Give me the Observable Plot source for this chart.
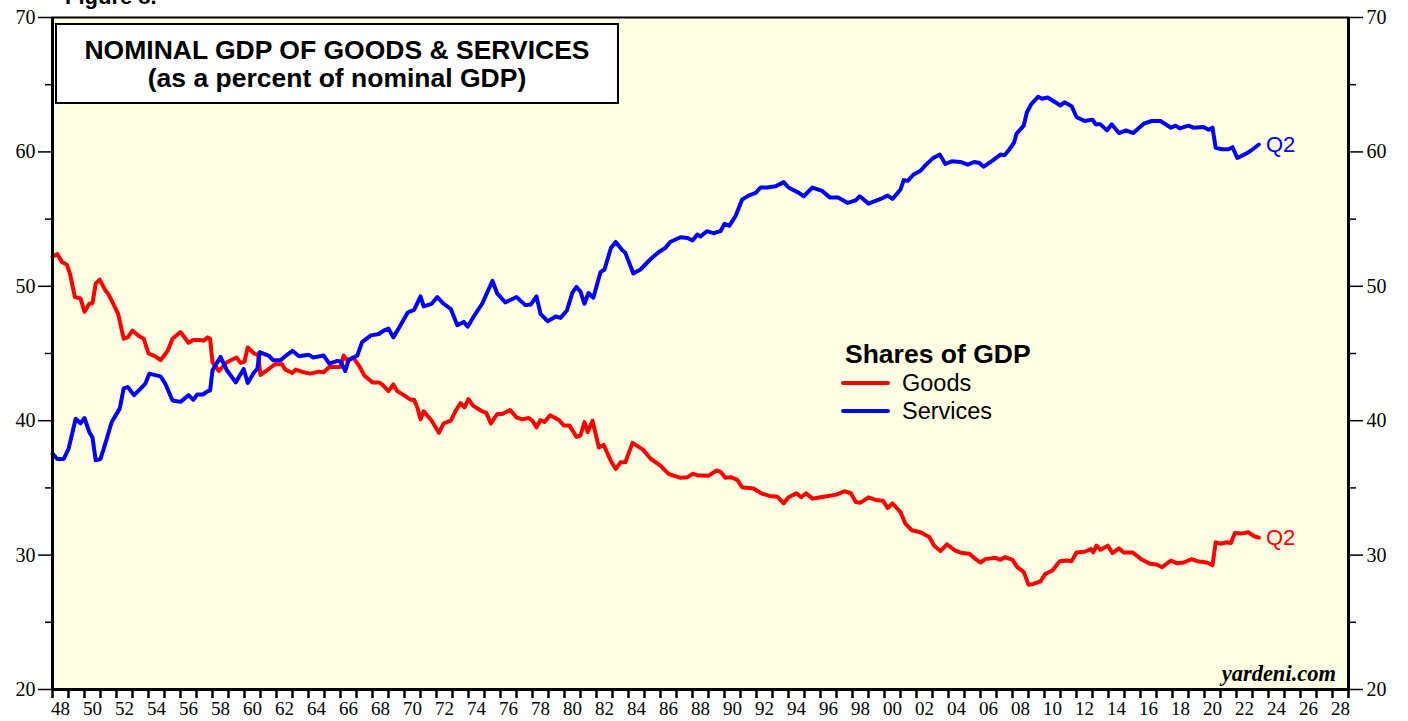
<!DOCTYPE html>
<html>
<head>
<meta charset="utf-8">
<script src="https://cdn.jsdelivr.net/npm/d3@7"></script>
<script src="https://cdn.jsdelivr.net/npm/@observablehq/plot@0.6"></script>
<style>
  html, body { margin: 0; padding: 0; background: #ffffff; }
  #chart svg { display: block; }
</style>
</head>
<body>
<div id="chart"></div>
<script>
// ---- Data ----
const goodsYears = [1948.0,1948.3,1948.6,1948.9,1949.1,1949.4,1949.75,1950.0,1950.3,1950.5,1950.7,1950.95,1951.3,1951.5,1951.8,1952.1,1952.45,1952.7,1953.0,1953.4,1953.7,1954.0,1954.4,1954.75,1955.2,1955.5,1956.0,1956.5,1956.8,1957.25,1957.45,1957.7,1957.85,1958.0,1958.4,1958.9,1959.5,1959.75,1960.0,1960.2,1960.6,1960.85,1961.0,1961.4,1961.9,1962.35,1962.55,1963.0,1963.2,1963.7,1964.1,1964.65,1964.95,1965.3,1965.7,1966.0,1966.2,1966.4,1966.8,1967.15,1967.5,1968.0,1968.4,1968.6,1969.0,1969.3,1969.55,1969.95,1970.4,1970.6,1970.8,1971.0,1971.2,1971.7,1972.15,1972.45,1972.9,1973.2,1973.5,1973.75,1974.0,1974.3,1974.85,1975.1,1975.4,1975.8,1976.1,1976.6,1977.0,1977.35,1977.75,1978.0,1978.25,1978.5,1978.75,1979.1,1979.65,1979.95,1980.3,1980.75,1981.0,1981.25,1981.45,1981.75,1982.15,1982.45,1982.9,1983.2,1983.5,1983.8,1984.25,1984.9,1985.4,1986.0,1986.5,1987.25,1987.7,1988.0,1988.3,1989.0,1989.5,1989.75,1990.05,1990.4,1990.8,1991.1,1991.8,1992.3,1992.8,1993.3,1993.7,1994.0,1994.5,1994.8,1995.1,1995.5,1996.0,1996.5,1997.0,1997.5,1997.9,1998.2,1998.5,1999.0,1999.45,1999.9,2000.2,2000.5,2001.0,2001.3,2001.7,2002.25,2002.8,2003.1,2003.5,2003.9,2004.4,2004.85,2005.3,2005.7,2006.0,2006.3,2006.95,2007.25,2007.55,2008.0,2008.3,2008.7,2009.0,2009.3,2009.75,2010.05,2010.5,2010.95,2011.4,2011.7,2012.0,2012.5,2012.9,2013.05,2013.25,2013.5,2013.95,2014.25,2014.65,2014.95,2015.5,2016.1,2016.6,2017.0,2017.35,2017.9,2018.25,2018.7,2019.2,2019.55,2020.15,2020.5,2020.7,2021.0,2021.4,2021.65,2021.9,2022.3,2022.75,2023.1,2023.4];
const goodsValues = [52.2,52.4,51.8,51.6,50.9,49.2,49.1,48.1,48.7,48.75,50.2,50.5,49.7,49.4,48.7,47.95,46.1,46.2,46.7,46.3,46.1,45.0,44.8,44.5,45.2,46.1,46.6,45.8,46.0,46.0,45.95,46.2,46.1,44.35,43.7,44.35,44.7,44.3,44.4,45.45,45.0,44.9,43.4,43.75,44.2,44.2,43.8,43.55,43.8,43.6,43.5,43.65,43.6,44.0,44.0,44.0,44.85,44.5,44.7,44.1,43.35,42.85,42.85,42.7,42.2,42.7,42.2,41.9,41.55,41.55,41.0,40.1,40.7,40.0,39.1,39.8,40.0,40.75,41.3,41.0,41.6,41.1,40.7,40.6,39.8,40.5,40.5,40.8,40.25,40.1,40.2,40.0,39.5,40.05,39.9,40.4,40.05,39.65,39.65,38.8,38.9,39.9,39.15,40.0,38.0,38.2,37.0,36.4,36.9,36.9,38.35,37.85,37.15,36.65,36.05,35.75,35.8,36.05,35.95,35.9,36.3,36.2,35.75,35.8,35.6,35.05,34.95,34.6,34.4,34.35,33.85,34.3,34.6,34.3,34.6,34.2,34.3,34.4,34.5,34.75,34.6,33.95,33.9,34.3,34.1,34.05,33.5,33.85,33.2,32.35,31.85,31.7,31.35,30.7,30.3,30.8,30.35,30.15,30.1,29.7,29.45,29.7,29.8,29.65,29.85,29.65,29.1,28.75,27.8,27.85,28.05,28.6,28.85,29.55,29.6,29.55,30.2,30.25,30.45,30.2,30.7,30.4,30.7,30.15,30.5,30.2,30.2,29.65,29.35,29.3,29.1,29.6,29.4,29.45,29.7,29.55,29.45,29.25,30.95,30.85,30.95,30.9,31.65,31.6,31.7,31.4,31.3];

const servicesYears = [1948.0,1948.3,1948.7,1949.0,1949.45,1949.75,1950.0,1950.3,1950.5,1950.7,1951.0,1951.3,1951.7,1952.2,1952.45,1952.7,1953.1,1953.6,1953.8,1954.05,1954.75,1955.05,1955.5,1956.0,1956.5,1956.8,1957.05,1957.4,1957.7,1957.85,1958.0,1958.5,1958.9,1959.45,1959.95,1960.2,1960.6,1960.8,1960.95,1961.5,1961.8,1962.25,1962.55,1963.0,1963.4,1964.0,1964.3,1964.95,1965.3,1965.8,1966.0,1966.3,1966.5,1967.05,1967.35,1967.9,1968.4,1968.7,1969.0,1969.3,1969.65,1970.2,1970.6,1971.0,1971.2,1971.7,1972.05,1972.45,1972.9,1973.3,1973.7,1973.95,1974.3,1974.85,1975.5,1975.8,1976.3,1977.0,1977.55,1977.9,1978.25,1978.5,1978.95,1979.45,1979.75,1980.15,1980.5,1980.75,1981.0,1981.25,1981.5,1981.8,1982.25,1982.5,1982.9,1983.2,1983.6,1983.8,1984.3,1984.75,1985.4,1985.9,1986.3,1986.6,1987.25,1987.7,1988.0,1988.3,1988.5,1988.9,1989.3,1989.75,1990.0,1990.3,1990.7,1991.1,1991.5,1991.95,1992.25,1992.65,1993.2,1993.7,1994.0,1994.65,1994.95,1995.5,1996.1,1996.6,1997.1,1997.7,1998.2,1998.45,1999.0,1999.75,2000.2,2000.5,2001.0,2001.2,2001.45,2001.8,2002.25,2002.55,2003.0,2003.45,2003.8,2004.2,2004.75,2005.2,2005.6,2005.9,2006.2,2006.75,2007.25,2007.5,2007.75,2008.1,2008.25,2008.7,2008.9,2009.2,2009.6,2009.85,2010.2,2010.6,2011.0,2011.25,2011.7,2012.0,2012.5,2013.0,2013.2,2013.5,2013.9,2014.2,2014.65,2015.1,2015.55,2016.2,2016.7,2017.25,2017.9,2018.2,2018.45,2019.0,2019.3,2019.95,2020.25,2020.5,2020.7,2021.1,2021.5,2021.75,2022.05,2022.55,2022.85,2023.4];
const servicesValues = [37.55,37.15,37.15,37.9,40.15,39.8,40.2,39.15,38.75,37.05,37.15,38.3,39.9,40.9,42.4,42.5,41.9,42.5,42.75,43.5,43.3,42.75,41.5,41.4,41.9,41.55,41.95,41.95,42.2,42.25,43.75,44.75,43.75,42.85,43.85,42.8,43.6,43.85,45.1,44.85,44.5,44.5,44.8,45.2,44.8,44.9,44.7,44.85,44.25,44.45,44.4,43.7,44.5,44.85,45.85,46.35,46.45,46.7,46.85,46.2,46.9,48.05,48.25,49.25,48.5,48.7,49.2,48.7,48.3,47.1,47.35,47.0,47.7,48.7,50.4,49.45,48.8,49.2,48.6,48.65,49.25,47.95,47.4,47.75,47.65,48.2,49.55,49.95,49.6,48.7,49.5,49.15,51.05,51.25,52.85,53.3,52.7,52.5,50.95,51.25,52.05,52.55,52.85,53.3,53.65,53.6,53.4,53.85,53.7,54.1,53.95,54.1,54.65,54.5,55.25,56.45,56.75,56.95,57.35,57.35,57.45,57.75,57.35,56.95,56.7,57.35,57.1,56.6,56.6,56.2,56.4,56.7,56.15,56.5,56.75,56.5,57.2,57.9,57.85,58.3,58.6,59.0,59.5,59.8,59.1,59.3,59.25,59.05,59.25,59.2,58.9,59.35,59.8,59.75,60.1,60.7,61.35,61.95,62.95,63.6,64.1,63.95,64.05,63.75,63.45,63.7,63.4,62.6,62.3,62.4,62.05,62.05,61.6,62.05,61.4,61.6,61.4,62.1,62.3,62.3,61.8,61.95,61.75,61.95,61.8,61.85,61.65,61.8,60.3,60.2,60.2,60.35,59.55,59.85,60.05,60.55];

const yMajorTicks = [20, 30, 40, 50, 60, 70];
const yMinorTicks = [25, 35, 45, 55, 65];
const xYearTicks = d3.range(1948, 2030);
const xLabelYears = d3.range(1948, 2029, 2);
const seriesNames = ["Goods", "Services"];
const seriesColors = ["#ff0000", "#0000ff"];
const lastLabel = "Q2";

const goods = goodsYears.map((y, i) => ({year: y, value: goodsValues[i]}));
const services = servicesYears.map((y, i) => ({year: y, value: servicesValues[i]}));

const serif = "'Liberation Serif', 'Times New Roman', serif";
const sans = "'Liberation Sans', Arial, sans-serif";

const chart = Plot.plot({
  width: 1408,
  height: 721,
  marginLeft: 52,
  marginRight: 60,
  marginTop: 17,
  marginBottom: 32,
  x: {domain: [1948, 2029], axis: null},
  y: {domain: [20, 70], axis: null},
  style: {background: "#ffffff", fontFamily: serif, fontSize: "18px", color: "black"},
  marks: [
    Plot.frame({fill: "#ffffe3"}),
    Plot.line(goods, {x: "year", y: "value", stroke: seriesColors[0], strokeWidth: 4, strokeLinejoin: "round", strokeLinecap: "round"}),
    Plot.line(services, {x: "year", y: "value", stroke: seriesColors[1], strokeWidth: 4, strokeLinejoin: "round", strokeLinecap: "round"}),
    Plot.text(goods.slice(-1), {x: "year", y: "value", text: () => lastLabel, dx: 7, textAnchor: "start", fill: seriesColors[0], fontFamily: sans, fontSize: 22}),
    Plot.text(services.slice(-1), {x: "year", y: "value", text: () => lastLabel, dx: 7, textAnchor: "start", fill: seriesColors[1], fontFamily: sans, fontSize: 22}),
    Plot.frame({stroke: "black", strokeWidth: 2}),
    Plot.ruleX([1948, 2029], {stroke: "black", strokeWidth: 3}),
    Plot.ruleY([20], {stroke: "black", strokeWidth: 3}),
    Plot.axisY({anchor: "left", label: null, ticks: yMajorTicks, tickSize: 14, tickPadding: 3, fontSize: 20, fontFamily: serif, strokeWidth: 1.5}),
    Plot.axisY({anchor: "left", label: null, ticks: yMinorTicks, tickSize: 7, tickFormat: () => "", strokeWidth: 1.5}),
    Plot.axisY({anchor: "right", label: null, ticks: yMajorTicks, tickSize: 14, tickPadding: 4, fontSize: 20, fontFamily: serif, strokeWidth: 1.5}),
    Plot.axisY({anchor: "right", label: null, ticks: yMinorTicks, tickSize: 7, tickFormat: () => "", strokeWidth: 1.5}),
    Plot.axisX({anchor: "bottom", label: null, ticks: xYearTicks, tickSize: 9, tickFormat: () => "", strokeWidth: 2.5}),
    Plot.axisX({anchor: "bottom", label: null, ticks: xLabelYears.map(d => d + 0.5), tickSize: 0, tickPadding: 12, fontSize: 19, fontFamily: serif,
      tickFormat: d => String(Math.floor(d) % 100).padStart(2, "0")})
  ]
});

document.getElementById("chart").appendChild(chart);

// ---- Annotations ----
const svg = d3.select(chart);
const g = svg.append("g").attr("text-anchor", "start");

// "Figure 8." label, cut off at the top as in the reference
g.append("text").attr("x", 65).attr("y", 4).attr("text-anchor", "start").attr("font-family", sans).attr("font-weight", "bold")
  .attr("font-size", 22).attr("fill", "black").text("Figure 8.");

// Title box
g.append("rect").attr("x", 56).attr("y", 24).attr("width", 562).attr("height", 79)
  .attr("fill", "white").attr("stroke", "black").attr("stroke-width", 2);
g.append("text").attr("x", 337).attr("y", 59).attr("text-anchor", "middle").attr("font-family", sans)
  .attr("font-weight", "bold").attr("font-size", 26.5).attr("fill", "black").text("NOMINAL GDP OF GOODS & SERVICES");
g.append("text").attr("x", 337).attr("y", 87).attr("text-anchor", "middle").attr("font-family", sans)
  .attr("font-weight", "bold").attr("font-size", 26.5).attr("fill", "black").text("(as a percent of nominal GDP)");

// Legend
g.append("text").attr("x", 845).attr("y", 363).attr("text-anchor", "start").attr("font-family", sans).attr("font-weight", "bold")
  .attr("font-size", 26.5).attr("fill", "black").text("Shares of GDP");
seriesNames.forEach((name, i) => {
  const yy = 383 + i * 28;
  g.append("line").attr("x1", 843).attr("x2", 888).attr("y1", yy).attr("y2", yy)
    .attr("stroke", seriesColors[i]).attr("stroke-width", 4).attr("stroke-linecap", "round");
  g.append("text").attr("x", 902).attr("y", yy + 8).attr("text-anchor", "start").attr("font-family", sans)
    .attr("font-size", 23.5).attr("fill", "black").text(name);
});

// Source
g.append("text").attr("x", 1336).attr("y", 681).attr("text-anchor", "end").attr("font-family", serif)
  .attr("font-weight", "bold").attr("font-style", "italic").attr("font-size", 22.5).attr("fill", "black").text("yardeni.com");
</script>
</body>
</html>
